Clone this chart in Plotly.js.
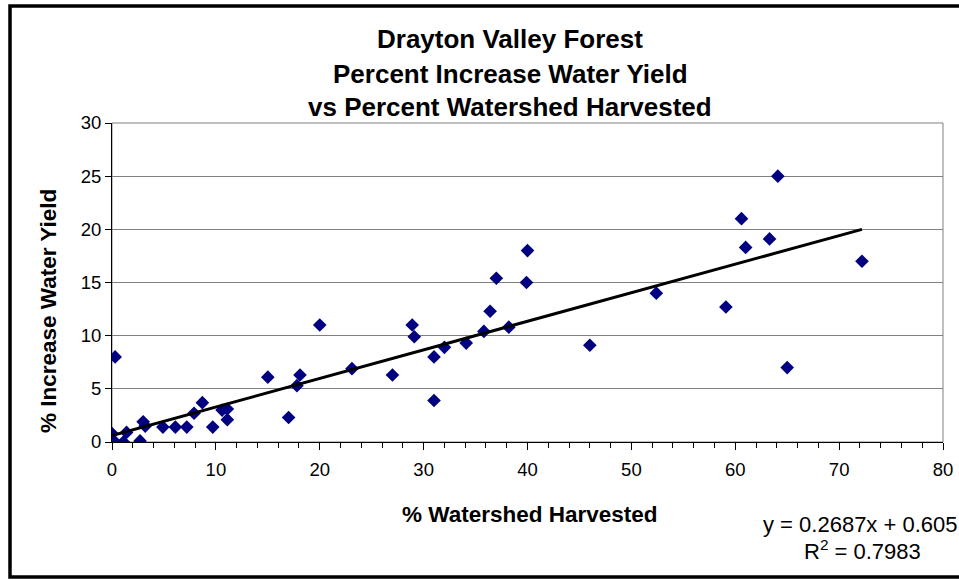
<!DOCTYPE html>
<html>
<head>
<meta charset="utf-8">
<script src="https://cdn.plot.ly/plotly-3.0.1.min.js"></script>
<style>
  html, body { margin: 0; padding: 0; background: #ffffff; }
  #chart { width: 959px; height: 580px; }
</style>
</head>
<body>
<div id="chart"></div>
<script>
// Percent of watershed harvested (x) and percent increase in water yield (y)
const harvestPct = [0, 0, 0.3, 0.3, 1.1, 1.4, 2.7, 3.0, 3.2, 4.9, 6.1, 7.2, 7.9, 8.7, 9.7, 10.6, 11.1, 11.1,
  15.0, 17.0, 17.8, 18.1, 20.0, 23.1, 27.0, 28.9, 29.1, 31.0, 31.0, 32.0, 34.1, 35.8, 36.4, 37.0, 38.2,
  39.9, 40.0, 46.0, 52.4, 59.1, 60.6, 61.0, 63.3, 64.1, 65.0, 72.2];
const yieldIncrease = [0, 0.8, 0, 8.0, 0, 0.9, 0.1, 1.9, 1.5, 1.4, 1.4, 1.4, 2.7, 3.7, 1.4, 3.0, 3.1, 2.1,
  6.1, 2.3, 5.3, 6.3, 11.0, 6.9, 6.3, 11.0, 9.9, 8.0, 3.9, 8.9, 9.3, 10.4, 12.3, 15.4, 10.8,
  15.0, 18.0, 9.1, 14.0, 12.7, 21.0, 18.3, 19.1, 25.0, 7.0, 17.0];
// Linear trendline end points
const trendX = [0, 72.2];
const trendY = [0.605, 20.0];
const titleLines = ["Drayton Valley Forest", "Percent Increase Water Yield", "vs Percent Watershed Harvested"];
const xTitle = "% Watershed Harvested";
const yTitle = "% Increase Water Yield";
const eqLines = ["y = 0.2687x + 0.605", "R<sup>2</sup> = 0.7983"];

const FONT = "Liberation Sans, Arial, Helvetica, sans-serif";

const traces = [
  {
    x: harvestPct, y: yieldIncrease, type: "scatter", mode: "markers",
    marker: { symbol: "diamond", size: 10.5, color: "#000080", line: { width: 0 } },
    hoverinfo: "x+y", showlegend: false
  },
  {
    x: trendX, y: trendY, type: "scatter", mode: "lines",
    line: { color: "#000000", width: 3 }, showlegend: false, hoverinfo: "skip"
  }
];

const W = 959, H = 580, ML = 112, MR = 16, MT = 123, MB = 138;
const PW = W - ML - MR, PH = H - MT - MB;
const px = (v) => (v - ML) / PW;
const py = (v) => (H - MB - v) / PH;

const annotations = [];
const titleY = [39, 74, 107];
titleLines.forEach((t, i) => annotations.push({
  text: "<b>" + t + "</b>", xref: "paper", yref: "paper", x: px(510), y: py(titleY[i]),
  xanchor: "center", yanchor: "middle", showarrow: false,
  font: { family: FONT, size: 26, color: "#000" }
}));
annotations.push({
  text: "<b>" + xTitle + "</b>", xref: "paper", yref: "paper", x: px(530), y: py(514),
  xanchor: "center", yanchor: "middle", showarrow: false,
  font: { family: FONT, size: 22.5, color: "#000" }
});
annotations.push({
  text: "<b>" + yTitle + "</b>", xref: "paper", yref: "paper", x: px(48), y: py(311),
  xanchor: "center", yanchor: "middle", showarrow: false, textangle: -90,
  font: { family: FONT, size: 22.5, color: "#000" }
});
annotations.push({
  text: eqLines[0], xref: "paper", yref: "paper", x: px(860), y: py(524),
  xanchor: "center", yanchor: "middle", showarrow: false,
  font: { family: FONT, size: 22, color: "#000" }
});
annotations.push({
  text: eqLines[1], xref: "paper", yref: "paper", x: px(862), y: py(550),
  xanchor: "center", yanchor: "middle", showarrow: false,
  font: { family: FONT, size: 22, color: "#000" }
});

const layout = {
  width: W, height: H,
  margin: { l: ML, r: MR, t: MT, b: MB, pad: 0 },
  paper_bgcolor: "#ffffff", plot_bgcolor: "#ffffff",
  font: { family: FONT, size: 18, color: "#000" },
  showlegend: false,
  xaxis: {
    range: [0, 80], dtick: 10, tick0: 0, showgrid: false, zeroline: false,
    showline: true, linecolor: "#000", linewidth: 1,
    ticks: "outside", ticklen: 7, tickcolor: "#000", tickwidth: 1,
    minor: { dtick: 2, ticks: "outside", ticklen: 5, tickcolor: "#000", tickwidth: 1, showgrid: false },
    tickfont: { family: FONT, size: 18.5, color: "#000" },
    ticklabelstandoff: 4
  },
  yaxis: {
    range: [0, 30], dtick: 5, tick0: 0, showgrid: true, gridcolor: "#808080", gridwidth: 1,
    zeroline: false, showline: true, linecolor: "#000", linewidth: 1,
    ticks: "outside", ticklen: 6, tickcolor: "#000", tickwidth: 1,
    tickfont: { family: FONT, size: 18.5, color: "#000" }
  },
  annotations: annotations,
  shapes: [
    { type: "rect", xref: "paper", yref: "paper", x0: 0, x1: 1, y0: 0, y1: 1,
      line: { color: "#808080", width: 1 }, layer: "below" },
    { type: "rect", xref: "paper", yref: "paper", x0: px(10), x1: px(990), y0: py(577), y1: py(6),
      line: { color: "#000", width: 3.5 }, layer: "above" }
  ]
};

Plotly.newPlot("chart", traces, layout, { staticPlot: true, displayModeBar: false });
</script>
</body>
</html>
